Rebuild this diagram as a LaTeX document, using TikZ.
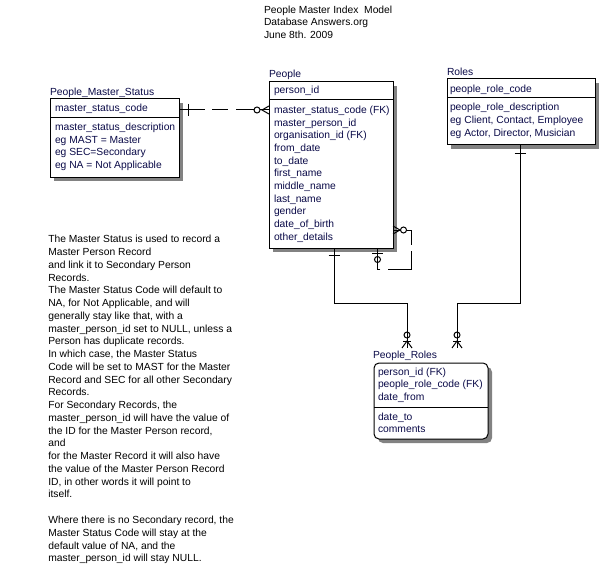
\documentclass[tikz,border=0pt]{standalone}
\usepackage{fontspec}
\setmainfont{Liberation Sans}
\usetikzlibrary{shadows}
\definecolor{ertext}{RGB}{10,10,72}
\definecolor{shadowc}{RGB}{130,130,130}
\newcommand\erfont{\fontsize{10.3}{12.63}\selectfont}
\newcommand\notefont{\fontsize{10.3}{12.76}\selectfont}
\begin{document}
\begin{tikzpicture}[x=1pt,y=-1pt,
  every node/.style={inner sep=0pt, outer sep=0pt},
  entbox/.style={draw, fill=white, line width=1pt, anchor=north west,
    drop shadow={shadow xshift=4pt, shadow yshift=-4pt, fill=shadowc, opacity=1}},
  attr/.style={anchor=base west, font=\erfont, text=ertext},
  ttl/.style={anchor=base west, font=\erfont, text=ertext},
  plain/.style={anchor=base west, font=\erfont, text=black},
  rel/.style={line width=1pt},
  nulw/.style={draw, line width=1pt, fill=white, circle, minimum size=6pt},
  nul/.style={draw, line width=1pt, circle, minimum size=6pt}
]
\useasboundingbox[fill=white] (0,0) rectangle (610,572);

% heading
\node[plain] (t1) at (264,13.3) {People Master Index\ \ Model};
\node[plain] (t2) at (264,26) {Database Answers.org};
\node[plain] (t3) at (264,38.6) {June 8th. 2009};

% People_Master_Status
\node[entbox, minimum width=129pt, minimum height=78.5pt] (pms) at (50,99) {};
\draw[rel] (pms.west |- 0,118) -- (pms.east |- 0,118);
\node[ttl] (pmsT) at (50,96) {People\_Master\_Status};
\node[attr] (pms1) at (55,111.7) {master\_status\_code};
\node[attr] (pms2) at (55,130.7) {master\_status\_description};
\node[attr] (pms3) at (55,143.3) {eg MAST = Master};
\node[attr] (pms4) at (55,156) {eg SEC=Secondary};
\node[attr] (pms5) at (55,168.7) {eg NA = Not Applicable};

% People
\node[entbox, minimum width=124pt, minimum height=166pt] (people) at (269,82) {};
\draw[rel] (people.west |- 0,100) -- (people.east |- 0,100);
\node[ttl] (peopleT) at (269,77.7) {People};
\node[attr] (p0) at (274,94) {person\_id};
\node[attr] (p1) at (274,113.5) {master\_status\_code (FK)};
\node[attr] (p2) at (274,126.15) {master\_person\_id};
\node[attr] (p3) at (274,138.8) {organisation\_id (FK)};
\node[attr] (p4) at (274,151.45) {from\_date};
\node[attr] (p5) at (274,164.1) {to\_date};
\node[attr] (p6) at (274,176.75) {first\_name};
\node[attr] (p7) at (274,189.4) {middle\_name};
\node[attr] (p8) at (274,202.05) {last\_name};
\node[attr] (p9) at (274,214.7) {gender};
\node[attr] (p10) at (274,227.35) {date\_of\_birth};
\node[attr] (p11) at (274,240) {other\_details};

% Roles
\node[entbox, minimum width=148pt, minimum height=66pt] (roles) at (447,79) {};
\draw[rel] (roles.west |- 0,98) -- (roles.east |- 0,98);
\node[ttl] (rolesT) at (447,76) {Roles};
\node[attr] (r0) at (450,92.3) {people\_role\_code};
\node[attr] (r1) at (450,111) {people\_role\_description};
\node[attr] (r2) at (450,123.7) {eg Client, Contact, Employee};
\node[attr] (r3) at (450,136.3) {eg Actor, Director, Musician};

% People_Roles
\node[entbox, rounded corners=5pt, minimum width=114pt, minimum height=76pt] (proles) at (374,363) {};
\draw[rel] (proles.west |- 0,407) -- (proles.east |- 0,407);
\node[ttl] (prolesT) at (373,358.3) {People\_Roles};
\node[attr] (pr0) at (378,375) {person\_id (FK)};
\node[attr] (pr1a) at (378,387.7) {people\_role\_code (FK)};
\node[attr] (pr2a) at (378,400.3) {date\_from};
\node[attr] (pr3a) at (378,420) {date\_to};
\node[attr] (pr4a) at (378,432.3) {comments};

% notes
\node[anchor=north west, font=\notefont, align=left, text=black] (notes) at (48.3,235.3) {%
The Master Status is used to record a\\
Master Person Record\\
and link it to Secondary Person\\
Records.\\
The Master Status Code will default to\\
NA, for Not Applicable, and will\\
generally stay like that, with a\\
master\_person\_id set to NULL, unless a\\
Person has duplicate records.\\
In which case, the Master Status\\
Code will be set to MAST for the Master\\
Record and SEC for all other Secondary\\
Records.\\
For Secondary Records, the\\
master\_person\_id will have the value of\\
the ID for the Master Person record,\\
and\\
for the Master Record it will also have\\
the value of the Master Person Record\\
ID, in other words it will point to\\
itself.\\[12.76pt]
Where there is no Secondary record, the\\
Master Status Code will stay at the\\
default value of NA, and the\\
master\_person\_id will stay NULL.};

% free ends above People_Roles
\coordinate (e1) at (407,348);
\coordinate (e2) at (457,348);

% relation 1: People_Master_Status -> People
\draw[rel, dash pattern=on 26pt off 7pt on 16pt off 8pt on 40pt] (pms.east |- 0,110) -- (people.west |- 0,110);
\draw[rel] (188,104) -- (188,116);
\draw[rel] (people.west |- 0,106) -- (262,110) -- (people.west |- 0,114);
\node[nulw] (c1) at (257,110) {};

% relation 2: People self
\draw[rel, dash pattern=on 33.5pt off 6pt on 41.5pt off 7.6pt on 40pt]
  (people.east |- 0,230) -- (411.5,230) -- (411.5,269) -- (377.5,269) -- (people.south -| 377.5,0);
\draw[rel] (people.east |- 0,226) -- (400,230) -- (people.east |- 0,234);
\node[nulw] (c2) at (403.5,230) {};
\draw[rel] (372,253) -- (383,253);
\node[nul] (c3) at (377.5,259.5) {};

% relation 3: People -> People_Roles
\draw[rel] (people.south -| 334,0) -- (334,303) -- (407,303) -- (e1);
\draw[rel] (328.5,255) -- (339.5,255);
\node[nul] (c4) at (407,335) {};
\draw[rel] (403,341) -- (411,341);
\draw[rel] (402,348) -- (407,341) -- (412,348);

% relation 4: Roles -> People_Roles
\draw[rel] (roles.south -| 520,0) -- (520,303) -- (457,303) -- (e2);
\draw[rel] (514.5,154) -- (525.5,154);
\node[nul] (c5) at (457,335) {};
\draw[rel] (453,341) -- (461,341);
\draw[rel] (452,348) -- (457,341) -- (462,348);
\end{tikzpicture}
\end{document}
